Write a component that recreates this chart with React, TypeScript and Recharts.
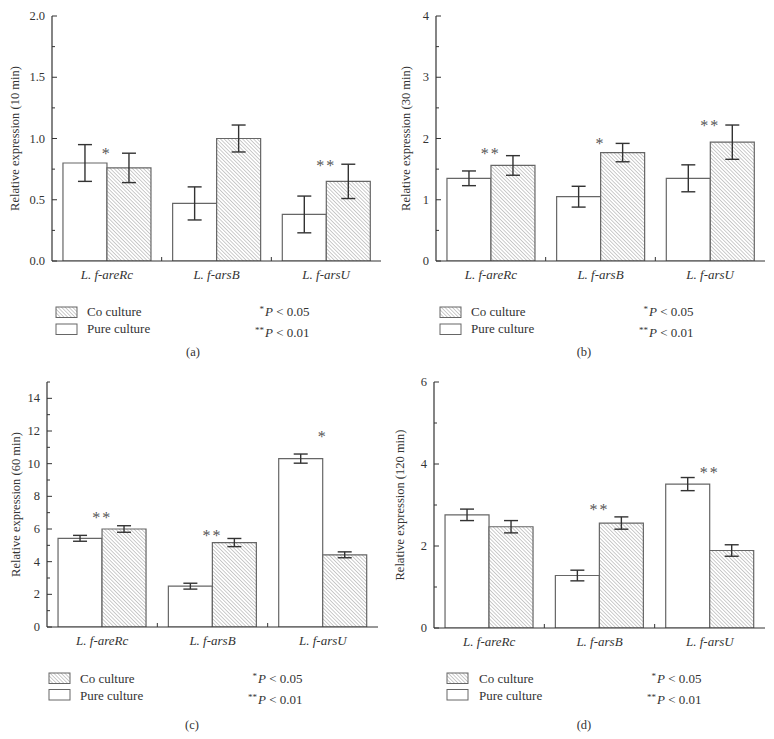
import React from "react";
import { BarChart, Bar, XAxis, YAxis, ErrorBar, ReferenceDot } from "recharts";

const categories = ["L. f-areRc", "L. f-arsB", "L. f-arsU"];

// 10 min
const pure10 = [0.8, 0.47, 0.38];
const pure10Err = [0.15, 0.135, 0.15];
const co10 = [0.76, 1.0, 0.65];
const co10Err = [0.12, 0.11, 0.14];
const sig10 = [
  { cat: "L. f-areRc", y: 0.91, mark: "*" },
  { cat: "L. f-arsU", y: 0.81, mark: "**" },
];
const ticks10 = [0, 0.5, 1.0, 1.5, 2.0];
const minor10 = [0.25, 0.75, 1.25, 1.75];

// 30 min
const pure30 = [1.35, 1.05, 1.35];
const pure30Err = [0.12, 0.17, 0.22];
const co30 = [1.56, 1.77, 1.94];
const co30Err = [0.16, 0.15, 0.28];
const sig30 = [
  { cat: "L. f-areRc", y: 1.81, mark: "**" },
  { cat: "L. f-arsB", y: 1.98, mark: "*" },
  { cat: "L. f-arsU", y: 2.27, mark: "**" },
];
const ticks30 = [0, 1, 2, 3, 4];
const minor30 = [0.5, 1.5, 2.5, 3.5];

// 60 min
const pure60 = [5.43, 2.5, 10.31];
const pure60Err = [0.18, 0.18, 0.28];
const co60 = [6.0, 5.17, 4.42];
const co60Err = [0.2, 0.25, 0.18];
const sig60 = [
  { cat: "L. f-areRc", y: 6.94, mark: "**" },
  { cat: "L. f-arsB", y: 5.82, mark: "**" },
  { cat: "L. f-arsU", y: 11.9, mark: "*" },
];
const ticks60 = [0, 2, 4, 6, 8, 10, 12, 14];
const minor60 = [1, 3, 5, 7, 9, 11, 13, 15];

// 120 min
const pure120 = [2.76, 1.28, 3.51];
const pure120Err = [0.14, 0.13, 0.16];
const co120 = [2.47, 2.56, 1.89];
const co120Err = [0.15, 0.15, 0.14];
const sig120 = [
  { cat: "L. f-arsB", y: 2.97, mark: "**" },
  { cat: "L. f-arsU", y: 3.89, mark: "**" },
];
const ticks120 = [0, 2, 4, 6];
const minor120 = [1, 3, 5];

const FONT = "'Liberation Serif', 'DejaVu Serif', serif";
const INK = "#333";
const BAR_STROKE = "#666";

const rows = (pure: number[], pureErr: number[], co: number[], coErr: number[]) =>
  categories.map((cat, i) => ({ cat, pure: pure[i], pureErr: pureErr[i], co: co[i], coErr: coErr[i] }));

type Layout = {
  left: number;
  top: number;
  h: number;
  plot: { l: number; t: number; r: number; b: number };
  labelX: number;
  boxX: number;
  boxY1: number;
  boxY2: number;
  textX: number;
  base1: number;
  base2: number;
  pX: number;
  pBase2: number;
  capX: number;
  capY: number;
};

type PanelProps = {
  data: ReturnType<typeof rows>;
  domain: [number, number];
  ticks: number[];
  minor: number[];
  fmt: (v: number) => string;
  sig: { cat: string; y: number; mark: string }[];
  yLabel: string;
  caption: string;
  lay: Layout;
};

const W = 387;

function Panel({ data, domain, ticks, minor, fmt, sig, yLabel, caption, lay }: PanelProps) {
  const { plot } = lay;
  const xH = 30;
  const band = (plot.r - plot.l) / categories.length;
  const allTicks = [...ticks, ...minor].filter(v => v <= domain[1]).sort((a, b) => a - b);

  const YTick = (props: any) => {
    const { x, y, payload } = props;
    const v = payload.value as number;
    const major = ticks.includes(v);
    const x0 = x + 7;
    return (
      <g>
        <line x1={x0} x2={x0 + (major ? 5 : 3)} y1={y} y2={y} stroke={INK} strokeWidth={1} />
        {major && (
          <text x={x} y={y} dy={4} textAnchor="end" fontSize={12.5} fill={INK} fontFamily={FONT}>
            {fmt(v)}
          </text>
        )}
      </g>
    );
  };

  const XTick = (props: any) => {
    const { x, y, payload, index } = props;
    return (
      <g>
        <text x={x} y={y + 18} textAnchor="middle" fontSize={13} fontStyle="italic" fill={INK} fontFamily={FONT}>
          {payload.value}
        </text>
        {index < categories.length - 1 && (
          <line x1={x + band / 2} x2={x + band / 2} y1={y} y2={y - 4} stroke={INK} strokeWidth={1} />
        )}
      </g>
    );
  };

  return (
    <div style={{ position: "absolute", left: lay.left, top: lay.top, width: W, height: lay.h }}>
      <BarChart
        width={W}
        height={lay.h}
        data={data}
        margin={{ top: plot.t, left: 0, right: W - plot.r, bottom: lay.h - plot.b - xH }}
        barCategoryGap="10%"
        barGap={0}
      >
        <XAxis
          dataKey="cat"
          height={xH}
          tickSize={0}
          tickMargin={0}
          tickLine={false}
          axisLine={{ stroke: INK, strokeWidth: 1.2 }}
          tick={<XTick />}
          interval={0}
        />
        <XAxis xAxisId="top" orientation="top" dataKey="cat" height={0} tick={false} tickLine={false} axisLine={{ stroke: INK, strokeWidth: 1.2 }} />
        <YAxis
          type="number"
          domain={domain}
          ticks={allTicks}
          interval={0}
          width={plot.l}
          tickSize={0}
          tickMargin={7}
          tickLine={false}
          axisLine={{ stroke: INK, strokeWidth: 1.2 }}
          tick={<YTick />}
          allowDataOverflow
        />
        <YAxis yAxisId="right" orientation="right" domain={domain} width={0} tick={false} tickLine={false} axisLine={{ stroke: INK, strokeWidth: 1.2 }} />
        <Bar dataKey="pure" fill="#fff" stroke={BAR_STROKE} strokeWidth={1.2} isAnimationActive={false}>
          <ErrorBar dataKey="pureErr" width={7} stroke={INK} strokeWidth={1.4} />
        </Bar>
        <Bar dataKey="co" fill="url(#hatch)" stroke={BAR_STROKE} strokeWidth={1.2} isAnimationActive={false}>
          <ErrorBar dataKey="coErr" width={7} stroke={INK} strokeWidth={1.4} />
        </Bar>
        {sig.map(s => (
          <ReferenceDot
            key={s.cat}
            x={s.cat}
            y={s.y}
            r={0}
            shape={(p: any) => (
              <text x={p.cx} y={p.cy + 9} textAnchor="middle" fontSize={16} letterSpacing={2} fill="#555" fontFamily={FONT}>
                {s.mark}
              </text>
            )}
          />
        ))}
      </BarChart>
      <svg width={W} height={lay.h} style={{ position: "absolute", left: 0, top: 0, pointerEvents: "none" }} fontFamily={FONT}>
        <text
          transform={`translate(${lay.labelX},${(plot.t + plot.b) / 2}) rotate(-90)`}
          textAnchor="middle"
          dominantBaseline="central"
          fontSize={12.5}
          fill={INK}
        >
          {yLabel}
        </text>
        <rect x={lay.boxX} y={lay.boxY1} width={21} height={10.5} fill="url(#hatch)" stroke={BAR_STROKE} strokeWidth={1} />
        <text x={lay.textX} y={lay.base1} fontSize={13} fill={INK}>Co culture</text>
        <rect x={lay.boxX} y={lay.boxY2} width={21} height={10.5} fill="#fff" stroke={BAR_STROKE} strokeWidth={1} />
        <text x={lay.textX} y={lay.base2} fontSize={13} fill={INK}>Pure culture</text>
        <text x={lay.pX - 1} y={lay.base1 - 4} textAnchor="end" fontSize={9} fill={INK}>*</text>
        <text x={lay.pX} y={lay.base1} fontSize={13} fill={INK}>
          <tspan fontStyle="italic">P</tspan> &lt; 0.05
        </text>
        <text x={lay.pX - 1} y={lay.pBase2 - 4} textAnchor="end" fontSize={9} fill={INK}>**</text>
        <text x={lay.pX} y={lay.pBase2} fontSize={13} fill={INK}>
          <tspan fontStyle="italic">P</tspan> &lt; 0.01
        </text>
        <text x={lay.capX} y={lay.capY} textAnchor="middle" fontSize={12.5} fill={INK}>{caption}</text>
      </svg>
    </div>
  );
}

const layA: Layout = {
  left: 0, top: 0, h: 370, plot: { l: 52, t: 16, r: 381, b: 261 }, labelX: 15,
  boxX: 56, boxY1: 307, boxY2: 324, textX: 87, base1: 316, base2: 333, pX: 265, pBase2: 337, capX: 193, capY: 356,
};
const layB: Layout = {
  left: 387, top: 0, h: 370, plot: { l: 49, t: 16, r: 378, b: 261 }, labelX: 19,
  boxX: 53, boxY1: 307, boxY2: 324, textX: 84, base1: 316, base2: 333, pX: 262, pBase2: 337, capX: 197, capY: 356,
};
const layC: Layout = {
  left: 0, top: 370, h: 369, plot: { l: 47, t: 12, r: 378, b: 257 }, labelX: 16,
  boxX: 49, boxY1: 303, boxY2: 319.5, textX: 80, base1: 312.5, base2: 329.5, pX: 258, pBase2: 333.5, capX: 192, capY: 359,
};
const layD: Layout = {
  left: 387, top: 370, h: 369, plot: { l: 47, t: 12, r: 378, b: 258 }, labelX: 13,
  boxX: 60, boxY1: 303, boxY2: 319.5, textX: 92, base1: 312.5, base2: 329.5, pX: 270, pBase2: 333.5, capX: 197, capY: 359,
};

export default function App() {
  const oneDec = (v: number) => v.toFixed(1);
  const int = (v: number) => String(v);
  return (
    <div style={{ position: "absolute", left: 0, top: 0, width: 774, height: 739, background: "#fff", fontFamily: FONT }}>
      <svg width={0} height={0} style={{ position: "absolute" }}>
        <defs>
          <pattern id="hatch" patternUnits="userSpaceOnUse" width={2.6} height={2.6} patternTransform="rotate(-45)">
            <rect width={2.6} height={2.6} fill="#fff" />
            <line x1={0} y1={0} x2={0} y2={2.6} stroke="#999" strokeWidth={1} />
          </pattern>
        </defs>
      </svg>
      <Panel
        data={rows(pure10, pure10Err, co10, co10Err)}
        domain={[0, 2]}
        ticks={ticks10}
        minor={minor10}
        fmt={oneDec}
        sig={sig10}
        yLabel="Relative expression (10 min)"
        caption="(a)"
        lay={layA}
      />
      <Panel
        data={rows(pure30, pure30Err, co30, co30Err)}
        domain={[0, 4]}
        ticks={ticks30}
        minor={minor30}
        fmt={int}
        sig={sig30}
        yLabel="Relative expression (30 min)"
        caption="(b)"
        lay={layB}
      />
      <Panel
        data={rows(pure60, pure60Err, co60, co60Err)}
        domain={[0, 15]}
        ticks={ticks60}
        minor={minor60}
        fmt={int}
        sig={sig60}
        yLabel="Relative expression (60 min)"
        caption="(c)"
        lay={layC}
      />
      <Panel
        data={rows(pure120, pure120Err, co120, co120Err)}
        domain={[0, 6]}
        ticks={ticks120}
        minor={minor120}
        fmt={int}
        sig={sig120}
        yLabel="Relative expression (120 min)"
        caption="(d)"
        lay={layD}
      />
    </div>
  );
}
